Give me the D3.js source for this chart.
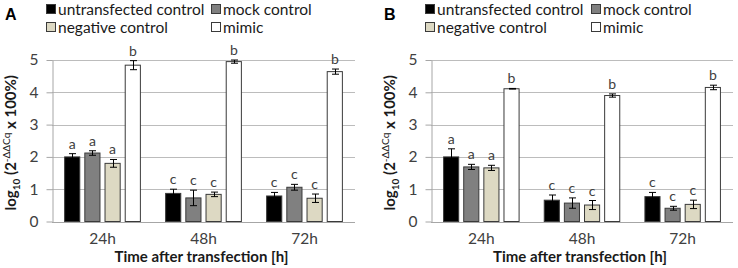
<!DOCTYPE html>
<html><head><meta charset="utf-8">
<script src="https://cdn.jsdelivr.net/npm/d3@7"></script>
<style>body{margin:0;background:#fff}svg{display:block}text{font-family:Lato,"Open Sans",sans-serif}</style>
</head><body>
<svg id="c" width="738" height="268"></svg>
<script>
const timepoints = ["24h", "48h", "72h"];
const seriesNames = ["untransfected control", "mock control", "negative control", "mimic"];
const seriesColors = ["#000000", "#808080", "#ddd9c3", "#ffffff"];
const yTicks = [0, 1, 2, 3, 4, 5];

// Panel A
const A_untransfected = [2.00, 0.87, 0.79];
const A_mock = [2.12, 0.73, 1.06];
const A_negative = [1.80, 0.84, 0.72];
const A_mimic = [4.84, 4.95, 4.64];
const A_err_untransfected = [0.10, 0.13, 0.11];
const A_err_mock = [0.07, 0.24, 0.09];
const A_err_negative = [0.12, 0.07, 0.13];
const A_err_mimic = [0.14, 0.05, 0.08];
const A_letters = [["a","a","a","b"],["c","c","c","b"],["c","c","c","b"]];

// Panel B
const B_untransfected = [2.00, 0.66, 0.77];
const B_mock = [1.69, 0.57, 0.41];
const B_negative = [1.66, 0.51, 0.53];
const B_mimic = [4.11, 3.90, 4.15];
const B_err_untransfected = [0.25, 0.16, 0.13];
const B_err_mock = [0.08, 0.16, 0.06];
const B_err_negative = [0.08, 0.14, 0.13];
const B_err_mimic = [0.01, 0.05, 0.07];
const B_letters = [["a","a","a","b"],["c","c","c","b"],["c","c","c","b"]];

const svg = d3.select("#c");

function panel(opts) {
  const {label, x0, x1, values, errs, letters} = opts;
  const yTop = 60, yBot = 221.5;
  const g = svg.append("g");
  const y = d3.scaleLinear().domain([0, 5]).range([yBot, yTop]);
  const x = d3.scaleBand().domain(timepoints).range([x0, x1]).paddingInner(0).paddingOuter(0);
  const bw = x.bandwidth();
  const xi = d3.scaleBand().domain(seriesNames).range([bw * 0.12, bw * 0.88]).paddingInner(0.2).paddingOuter(0);

  // gridlines
  g.selectAll("line.grid").data(yTicks.filter(t => t > 0)).join("line")
    .attr("x1", x0).attr("x2", x1).attr("y1", d => Math.round(y(d)) + 0.5).attr("y2", d => Math.round(y(d)) + 0.5)
    .attr("stroke", "#bcbcbc").attr("stroke-width", 1);

  // y axis
  const ax = g.append("g").attr("transform", `translate(${x0 + 0.5},0)`)
    .call(d3.axisLeft(y).tickValues(yTicks).tickSize(6).tickSizeOuter(0).tickPadding(8).tickFormat(d3.format("d")));
  ax.select(".domain").attr("stroke", "#a6a6a6");
  ax.selectAll(".tick line").attr("stroke", "#a6a6a6");
  ax.selectAll(".tick text").attr("fill", "#404040").style("font-size", "15.5px").style("font-family", "Lato");

  // x axis baseline
  g.append("line").attr("x1", x0).attr("x2", x1).attr("y1", Math.round(yBot) + 0.5).attr("y2", Math.round(yBot) + 0.5)
    .attr("stroke", "#a6a6a6");

  // x labels
  g.selectAll("text.xl").data(timepoints).join("text")
    .attr("x", d => x(d) + bw / 2).attr("y", 244).attr("text-anchor", "middle")
    .attr("fill", "#404040").style("font-size", "15.5px").text(d => d);

  // bars
  const data = [];
  timepoints.forEach((t, i) => {
    seriesNames.forEach((s, j) => {
      data.push({t, s, j, v: values[j][i], e: errs[j][i], l: letters[i][j]});
    });
  });
  const bg = g.append("g");
  bg.selectAll("rect").data(data).join("rect")
    .attr("x", d => x(d.t) + xi(d.s) + 0.5)
    .attr("y", d => y(d.v))
    .attr("width", xi.bandwidth() - 1)
    .attr("height", d => yBot - y(d.v))
    .attr("fill", d => seriesColors[d.j])
    .attr("stroke", "#3a3a3a").attr("stroke-width", 1);

  // error bars
  const eg = g.append("g").attr("stroke", "#000").attr("stroke-width", 1);
  data.forEach(d => {
    const cx = Math.round(x(d.t) + xi(d.s) + xi.bandwidth() / 2) + 0.5;
    const ya = y(d.v + d.e), yb = y(d.v - d.e);
    eg.append("line").attr("x1", cx).attr("x2", cx).attr("y1", ya).attr("y2", yb);
    eg.append("line").attr("x1", cx - 3.5).attr("x2", cx + 3.5).attr("y1", ya).attr("y2", ya);
    eg.append("line").attr("x1", cx - 3.5).attr("x2", cx + 3.5).attr("y1", yb).attr("y2", yb);
  });

  // letters
  g.selectAll("text.let").data(data).join("text")
    .attr("x", d => x(d.t) + xi(d.s) + xi.bandwidth() / 2)
    .attr("y", d => y(d.v + d.e) - 5)
    .attr("text-anchor", "middle").attr("fill", "#404040").style("font-size", "14px")
    .text(d => d.l);

  // y title
  const yt = g.append("text")
    .attr("transform", `translate(${x0 - 36},${(yTop + yBot) / 2 + 2}) rotate(-90)`)
    .attr("text-anchor", "middle").attr("fill", "#1a1a1a")
    .style("font-size", "15px").style("font-weight", "bold");
  yt.append("tspan").text("log");
  yt.append("tspan").attr("dy", 4).style("font-size", "10px").text("10");
  yt.append("tspan").attr("dy", -4).text(" (2");
  yt.append("tspan").attr("dy", -6).style("font-size", "10px").style("font-weight", "normal").text("-ΔΔCq");
  yt.append("tspan").attr("dy", 6).text(" x 100%)");

  // x title
  g.append("text").attr("x", (x0 + x1) / 2 - 2).attr("y", 262).attr("text-anchor", "middle")
    .attr("fill", "#1a1a1a").style("font-size", "15px").style("font-weight", "bold")
    .text("Time after transfection [h]");

  // panel label
  g.append("text").attr("x", opts.labelX).attr("y", 20).attr("fill", "#000")
    .style("font-size", "16px").style("font-weight", "bold").style("font-family", "Liberation Sans, Arial")
    .text(label);

  // legend
  const legPos = [
    {x: opts.legX, y: 15}, {x: opts.legX2, y: 15},
    {x: opts.legX, y: 33}, {x: opts.legX2, y: 33}
  ];
  seriesNames.forEach((s, j) => {
    const p = legPos[j];
    g.append("rect").attr("x", p.x + 0.5).attr("y", p.y - 10.5).attr("width", 9).attr("height", 9)
      .attr("fill", seriesColors[j]).attr("stroke", "#3a3a3a");
    g.append("text").attr("x", p.x + 12).attr("y", p.y).attr("fill", "#1a1a1a")
      .style("font-size", "15.5px").text(s);
  });
}

panel({label: "A", labelX: 5, x0: 52, x1: 355, legX: 46, legX2: 211,
  values: [A_untransfected, A_mock, A_negative, A_mimic],
  errs: [A_err_untransfected, A_err_mock, A_err_negative, A_err_mimic],
  letters: A_letters});
panel({label: "B", labelX: 384, x0: 431, x1: 733, legX: 425, legX2: 591,
  values: [B_untransfected, B_mock, B_negative, B_mimic],
  errs: [B_err_untransfected, B_err_mock, B_err_negative, B_err_mimic],
  letters: B_letters});
</script>
</body></html>
